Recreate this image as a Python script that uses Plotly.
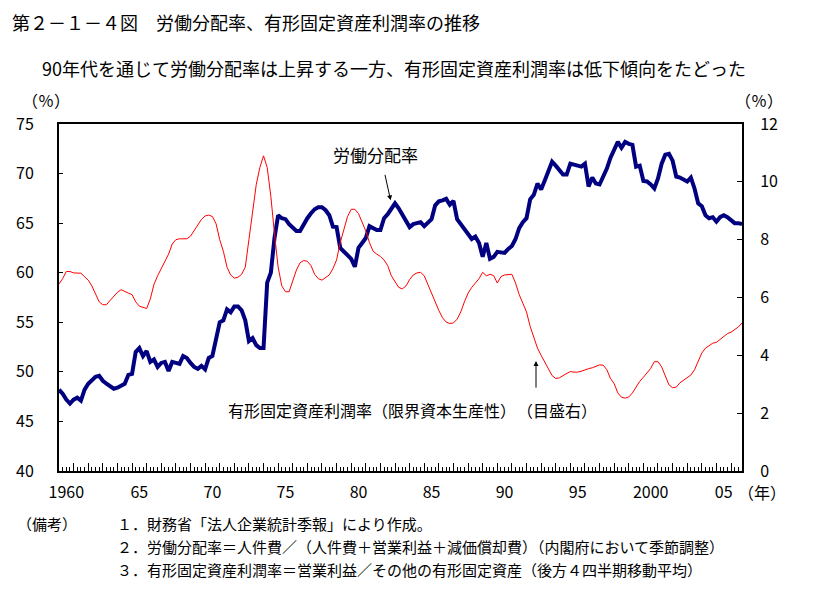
import plotly.graph_objects as go

# ---------------- data (quarterly, 1960Q1 - 2006Q4) ----------------
start_year = 1960
labor_share = [
    48.2, 47.8, 47.2, 46.8,   # 1960
    47.2, 47.4, 47.1, 48.2,   # 1961
    48.8, 49.1, 49.5, 49.6,   # 1962
    49.1, 48.8, 48.6, 48.3,   # 1963
    48.4, 48.6, 48.8, 49.7,   # 1964
    49.8, 52.0, 52.4, 51.6,   # 1965
    52.1, 51.0, 51.25, 50.5,  # 1966
    50.9, 51.0, 50.1, 51.0,   # 1967
    50.9, 50.8, 51.6, 51.4,   # 1968
    50.9, 50.5, 50.3, 50.6,   # 1969
    50.25, 51.4, 51.6, 53.5,  # 1970
    55.0, 55.2, 56.3, 56.0,   # 1971
    56.6, 56.6, 56.2, 55.2,   # 1972
    53.1, 53.4, 52.7, 52.4,   # 1973
    52.4, 59.0, 60.0, 63.5,   # 1974
    65.8, 65.5, 65.4, 64.9,   # 1975
    64.6, 64.2, 64.2, 64.9,   # 1976
    65.5, 66.0, 66.4, 66.6,   # 1977
    66.6, 66.3, 65.8, 64.65,  # 1978
    64.6, 62.5, 62.1, 61.8,   # 1979
    61.4, 60.6, 62.5, 63.0,   # 1980
    63.5, 64.7, 64.5, 64.3,   # 1981
    64.3, 65.5, 65.9, 66.5,   # 1982
    67.0, 66.5, 65.9, 65.2,   # 1983
    64.6, 64.9, 65.05, 65.1,  # 1984
    64.7, 65.0, 65.4, 66.8,   # 1985
    67.2, 67.3, 67.45, 66.85, # 1986
    67.25, 65.4, 64.9, 64.3,  # 1987
    63.9, 63.4, 63.65, 63.0,  # 1988
    61.6, 63.0, 61.4, 61.6,   # 1989
    62.1, 62.0, 62.0, 62.4,   # 1990
    62.7, 63.4, 64.5, 65.1,   # 1991
    65.5, 67.4, 67.85, 69.0,  # 1992
    68.4, 69.3, 70.2, 71.2,   # 1993
    70.8, 70.3, 69.9, 69.9,   # 1994
    71.0, 70.9, 70.75, 70.7,  # 1995
    71.0, 68.7, 69.6, 69.0,   # 1996
    68.9, 69.6, 70.5, 71.6,   # 1997
    72.4, 73.2, 72.6, 73.2,   # 1998
    73.0, 72.9, 70.7, 70.8,   # 1999
    69.25, 69.2, 68.9, 68.5,  # 2000
    69.5, 71.0, 71.9, 72.0,   # 2001
    71.3, 69.7, 69.6, 69.4,   # 2002
    69.2, 69.6, 68.5, 67.0,   # 2003
    66.7, 65.8, 65.5, 65.6,   # 2004
    65.15, 65.6, 65.8, 65.6,  # 2005
    65.3, 65.0, 65.0, 64.9,   # 2006
]
profit_rate = [
    6.47, 6.65, 6.9, 6.9,     # 1960
    6.85, 6.84, 6.84, 6.72,   # 1961
    6.6, 6.4, 6.1, 5.85,      # 1962
    5.75, 5.75, 5.9, 6.05,    # 1963
    6.18, 6.27, 6.2, 6.15,    # 1964
    6.1, 5.85, 5.7, 5.65,     # 1965
    5.62, 5.95, 6.45, 6.75,   # 1966
    7.0, 7.3, 7.5, 7.85,      # 1967
    8.0, 8.03, 8.03, 8.03,    # 1968
    8.12, 8.3, 8.5, 8.7,      # 1969
    8.82, 8.85, 8.8, 8.55,    # 1970
    8.0, 7.6, 7.05, 6.78,     # 1971
    6.67, 6.7, 6.8, 7.05,     # 1972
    8.0, 8.9, 9.9, 10.5,      # 1973
    10.9, 10.5, 9.5, 8.2,     # 1974
    7.05, 6.4, 6.2, 6.2,      # 1975
    6.55, 6.95, 7.2, 7.28,    # 1976
    7.25, 7.1, 6.8, 6.65,     # 1977
    6.6, 6.68, 6.78, 7.0,     # 1978
    7.3, 7.9, 8.4, 8.8,       # 1979
    9.05, 9.05, 8.9, 8.6,     # 1980
    8.3, 7.9, 7.6, 7.5,       # 1981
    7.42, 7.3, 7.1, 6.75,     # 1982
    6.55, 6.35, 6.3, 6.4,     # 1983
    6.62, 6.78, 6.85, 6.87,   # 1984
    6.75, 6.45, 6.15, 5.8,    # 1985
    5.55, 5.3, 5.15, 5.1,     # 1986
    5.12, 5.25, 5.5, 5.85,    # 1987
    6.15, 6.35, 6.5, 6.65,    # 1988
    6.87, 6.75, 6.8, 6.76,    # 1989
    6.5, 6.72, 6.78, 6.8,     # 1990
    6.8, 6.5, 6.1, 5.8,       # 1991
    5.5, 5.0, 4.6, 4.25,      # 1992
    4.0, 3.75, 3.5, 3.3,      # 1993
    3.2, 3.22, 3.3, 3.38,     # 1994
    3.44, 3.42, 3.42, 3.45,   # 1995
    3.5, 3.54, 3.57, 3.62,    # 1996
    3.67, 3.66, 3.5, 3.2,     # 1997
    3.02, 2.7, 2.55, 2.52,    # 1998
    2.56, 2.7, 2.9, 3.1,      # 1999
    3.24, 3.4, 3.55, 3.78,    # 2000
    3.78, 3.6, 3.3, 2.98,     # 2001
    2.88, 2.9, 3.05, 3.15,    # 2002
    3.24, 3.32, 3.5, 3.8,     # 2003
    4.08, 4.25, 4.35, 4.42,   # 2004
    4.45, 4.55, 4.65, 4.75,   # 2005
    4.8, 4.88, 4.98, 5.12,    # 2006
]
x_tick_years = [1960, 1965, 1970, 1975, 1980, 1985, 1990, 1995, 2000, 2005]
x_tick_labels = ["1960", "65", "70", "75", "80", "85", "90", "95", "2000", "05"]
left_ticks = [40, 45, 50, 55, 60, 65, 70, 75]
right_ticks = [0, 2, 4, 6, 8, 10, 12]

title_text = "第２－１－４図　労働分配率、有形固定資産利潤率の推移"
subtitle_text = "90年代を通じて労働分配率は上昇する一方、有形固定資産利潤率は低下傾向をたどった"
label_labor = "労働分配率"
label_profit = "有形固定資産利潤率（限界資本生産性）"
label_right_scale = "（目盛右）"
notes_head = "（備考）"
notes = [
    "１．財務省「法人企業統計季報」により作成。",
    "２．労働分配率＝人件費／（人件費＋営業利益＋減価償却費）（内閣府において季節調整）",
    "３．有形固定資産利潤率＝営業利益／その他の有形固定資産（後方４四半期移動平均）",
]

# ---------------- layout helpers (screen pixel coords) ----------------
W, H = 814, 608
OFF = 8                      # default page body margin of the html page
L, R, T, B = 59, 742, 124, 471
FONT = "Noto Sans CJK JP"
x_q = [start_year + i / 4 for i in range(len(labor_share))]
x_end = x_q[-1]


def px(xp):
    return (xp - L) / (R - L)


def py(yp):
    return (B - yp) / (B - T)


fig = go.Figure()
fig.add_trace(go.Scatter(x=x_q, y=profit_rate, mode="lines", yaxis="y2",
                         line=dict(color="#ff0000", width=1), showlegend=False))
fig.add_trace(go.Scatter(x=x_q, y=labor_share, mode="lines",
                         line=dict(color="#000080", width=4), showlegend=False))
# invisible trace for the label axis
fig.add_trace(go.Scatter(x=[start_year, x_end], y=[None, None], xaxis="x2",
                         mode="lines", showlegend=False, hoverinfo="skip"))

axis_font = dict(family=FONT, size=16, color="black")
fig.update_layout(
    width=W, height=H,
    margin=dict(l=L - OFF, r=W - R + OFF, t=T - OFF, b=H - B + OFF, pad=0,
                autoexpand=False),
    paper_bgcolor="white", plot_bgcolor="white",
    font=dict(family=FONT, color="black"),
    xaxis=dict(range=[start_year, x_end], tickmode="linear", tick0=start_year, dtick=1,
               ticks="inside", ticklen=8, tickwidth=1, tickcolor="black",
               minor=dict(dtick=0.25, tick0=start_year, ticks="inside", ticklen=4,
                          tickwidth=1, tickcolor="black"),
               showticklabels=False, showgrid=False, zeroline=False, automargin=False,
               showline=True, linecolor="black", linewidth=2, mirror=True),
    xaxis2=dict(range=[start_year, x_end], overlaying="x", anchor="y", side="bottom",
                tickmode="array", tickvals=[yv + 0.5 for yv in x_tick_years],
                ticktext=x_tick_labels, ticks="", showline=False, showgrid=False,
                zeroline=False, tickfont=axis_font, ticklabelstandoff=10,
                automargin=False),
    yaxis=dict(range=[40, 75], tickmode="array", tickvals=left_ticks,
               ticks="inside", ticklen=4, tickcolor="black", tickfont=axis_font,
               showgrid=False, zeroline=False, showline=True, linecolor="black",
               linewidth=2, ticklabelstandoff=20, automargin=False),
    yaxis2=dict(range=[0, 12], tickmode="array", tickvals=right_ticks, overlaying="y",
                side="right", ticks="inside", ticklen=5, tickcolor="black",
                tickfont=axis_font, showgrid=False, zeroline=False, showline=True,
                linecolor="black", linewidth=2, ticklabelstandoff=13,
                automargin=False),
)

ann = []


def text(xp, yp, s, size, xanchor="left"):
    ann.append(dict(xref="paper", yref="paper", x=px(xp), y=py(yp), text=s,
                    showarrow=False, xanchor=xanchor, yanchor="middle",
                    align=xanchor if xanchor != "center" else "center",
                    font=dict(family=FONT, size=size, color="black")))


text(10, 22, title_text, 18)
text(40, 68, subtitle_text, 18)
text(46, 100, "（％）", 16, "center")
text(759, 100, "（％）", 16, "center")
text(762, 492, "（年）", 16, "center")
text(375, 154, label_labor, 17, "center")
text(226, 410, label_profit, 16)
text(515, 410, label_right_scale, 16)
text(15, 523, notes_head, 15)
for i, line in enumerate(notes):
    text(115, 523 + i * 23, line, 15)

# arrows
ann.append(dict(x=1982.7, y=67.3, xref="x", yref="y", text="", showarrow=True,
                ax=-6, ay=-27, axref="pixel", ayref="pixel", arrowhead=2,
                arrowsize=1, arrowwidth=1, arrowcolor="black"))
ann.append(dict(x=1992.65, y=3.8, xref="x", yref="y2", text="", showarrow=True,
                ax=0, ay=28, axref="pixel", ayref="pixel", arrowhead=2,
                arrowsize=1, arrowwidth=1, arrowcolor="black"))
fig.update_layout(annotations=ann)

fig.write_html("out.html")
